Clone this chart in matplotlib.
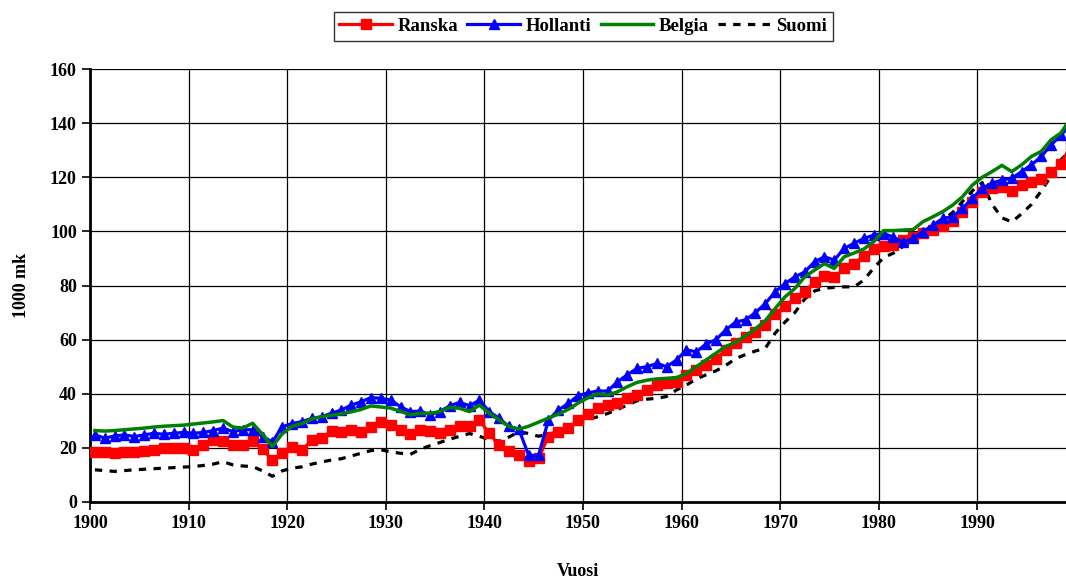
import numpy as np
import matplotlib
matplotlib.use('Agg')
import matplotlib.pyplot as plt

years = np.arange(1900, 2000)

ranska = [18.6, 18.4, 18.0, 18.6, 18.6, 19.0, 19.3, 20.1, 19.9, 20.0,
          19.3, 21.0, 22.8, 22.6, 21.2, 21.2, 22.6, 19.5, 15.5, 18.0,
          20.2, 19.2, 22.8, 23.6, 26.3, 26.0, 26.5, 26.0, 27.8, 29.6,
          28.5, 26.6, 25.2, 26.6, 26.3, 25.4, 26.6, 28.0, 27.9, 30.2,
          25.4, 21.0, 18.7, 17.4, 15.0, 16.2, 24.2, 26.0, 27.3, 30.2,
          32.7, 34.6, 35.8, 36.4, 38.3, 39.5, 41.4, 43.2, 43.8, 44.4,
          46.9, 48.8, 50.6, 53.0, 56.2, 58.6, 61.0, 63.0, 65.4, 69.5,
          72.3, 75.2, 77.7, 81.4, 83.5, 83.0, 86.3, 88.1, 91.0, 93.4,
          94.5, 95.1, 96.8, 97.9, 99.3, 100.5, 102.0, 104.0, 107.0, 111.0,
          114.5, 116.0, 116.5, 115.0, 117.0, 118.2, 119.5, 121.8, 124.8, 132.0]

hollanti = [24.8, 23.6, 24.4, 24.8, 24.2, 24.8, 25.4, 25.0, 25.4, 25.7,
            25.4, 25.7, 26.4, 27.3, 26.0, 26.7, 26.7, 24.2, 22.2, 27.8,
            29.0, 29.7, 30.9, 31.5, 32.8, 34.0, 35.8, 37.0, 38.6, 38.3,
            37.7, 35.2, 33.4, 33.6, 32.2, 33.4, 35.6, 36.8, 35.6, 37.6,
            33.4, 30.9, 27.9, 26.9, 17.2, 17.2, 30.3, 34.0, 36.4, 39.3,
            40.3, 41.0, 41.0, 44.4, 47.0, 49.4, 50.0, 51.2, 50.0, 52.5,
            56.2, 55.5, 58.4, 60.0, 63.6, 66.5, 67.3, 70.0, 73.3, 77.7,
            80.7, 83.2, 85.0, 88.8, 90.6, 89.4, 93.7, 95.6, 97.4, 98.6,
            99.2, 97.9, 95.9, 97.4, 99.9, 102.3, 104.8, 105.4, 108.5, 112.2,
            115.9, 117.8, 119.0, 119.6, 122.1, 124.6, 127.7, 132.0, 135.6, 139.5]

belgia = [26.4, 26.2, 26.4, 26.7, 27.0, 27.3, 27.7, 28.0, 28.2, 28.4,
          28.8, 29.2, 29.6, 30.1, 27.7, 27.3, 29.1, 25.0, 20.5, 25.2,
          28.0, 29.0, 30.7, 31.5, 32.0, 32.6, 33.3, 34.2, 35.5, 35.1,
          34.7, 33.5, 32.2, 32.8, 32.8, 33.4, 35.0, 34.6, 33.4, 35.8,
          32.8, 30.3, 27.9, 26.9, 28.0, 29.5, 31.0, 32.5, 34.2, 36.5,
          38.5, 40.0, 39.5, 40.7, 42.6, 44.2, 45.0, 45.5, 45.7, 46.0,
          47.5, 50.0, 52.5, 55.0, 57.5, 59.0, 61.5, 64.0, 67.0, 71.5,
          75.8, 78.9, 83.2, 85.7, 88.1, 86.3, 90.6, 92.0, 93.5, 96.2,
          100.3, 100.3, 100.5, 100.7, 103.6, 105.4, 107.3, 109.7, 112.8, 117.1,
          120.0, 122.1, 124.4, 122.1, 124.6, 127.7, 129.6, 133.9, 136.4, 142.0]

suomi = [11.9, 11.6, 11.3, 11.6, 11.9, 12.1, 12.3, 12.5, 12.7, 12.9,
         13.1, 13.5, 14.0, 14.9, 13.7, 13.3, 13.1, 11.5, 9.5, 11.5,
         12.5, 13.0, 14.0, 14.8, 15.5, 16.0, 17.0, 18.0, 19.0, 19.3,
         18.5, 18.0, 17.6, 19.5, 20.8, 22.0, 23.2, 24.3, 25.3, 24.3,
         23.0, 22.5, 24.0, 26.0, 25.3, 24.3, 25.0, 26.0, 27.5, 29.0,
         30.5, 31.5, 32.7, 34.2, 35.8, 37.4, 38.0, 38.3, 39.0, 41.4,
         43.2, 45.5, 47.0, 48.5, 50.5, 53.0, 54.5, 55.8, 56.8, 62.4,
         66.5, 70.0, 75.0, 78.0, 79.0, 79.3, 79.5, 79.5, 82.0, 86.5,
         90.3, 92.0, 94.5, 98.0, 99.5, 101.0, 104.0, 107.0, 111.0, 115.0,
         118.0, 110.0, 105.0, 103.5, 106.5, 110.0, 115.0, 120.5, 126.5, 130.0]

plt.rcParams['font.family'] = ['Liberation Serif', 'DejaVu Serif']
plt.rcParams['font.weight'] = 'bold'

fig = plt.figure(figsize=(10.66, 5.8), dpi=100)
ax = fig.add_axes([0.0844, 0.1345, 0.9156, 0.7465])

# points sit in the middle of each year slot (category axis)
x = years + 0.5

ax.plot(x, ranska, color='#ff0000', lw=2.3, marker='s', ms=6.5, label='Ranska', zorder=3)
ax.plot(x, hollanti, color='#0000ff', lw=2.3, marker='^', ms=7, label='Hollanti', zorder=4)
ax.plot(x, belgia, color='#008000', lw=2.5, label='Belgia', zorder=5)
ax.plot(x, suomi, color='black', lw=2.3, dashes=(2.3, 2.3), label='Suomi', zorder=2)

ax.set_xlim(1900, 1999)
ax.set_ylim(0, 160)
ax.set_xticks(np.arange(1900, 1991, 10))
ax.set_yticks(np.arange(0, 161, 20))
ax.grid(True, color='black', lw=0.9)
ax.set_axisbelow(True)

for s in ['top', 'right']:
    ax.spines[s].set_visible(False)
for s in ['left', 'bottom']:
    ax.spines[s].set_linewidth(2)

ax.tick_params(axis='both', labelsize=13, length=6, width=1.2, direction='out')
for lab in ax.get_xticklabels() + ax.get_yticklabels():
    lab.set_fontweight('bold')

ax.set_xlabel('Vuosi', fontsize=13, fontweight='bold', labelpad=22)
ax.set_ylabel('1000 mk', fontsize=13, fontweight='bold', labelpad=14)

leg = fig.legend(loc='upper center', bbox_to_anchor=(0.547, 0.995), ncol=4,
                 fontsize=13.5, frameon=True, fancybox=False, edgecolor='black',
                 handlelength=2.8, columnspacing=0.5, handletextpad=0.3,
                 borderpad=0.3)
leg.get_frame().set_linewidth(1.0)
for t in leg.get_texts():
    t.set_fontweight('bold')

fig.savefig('out.png', dpi=100)
